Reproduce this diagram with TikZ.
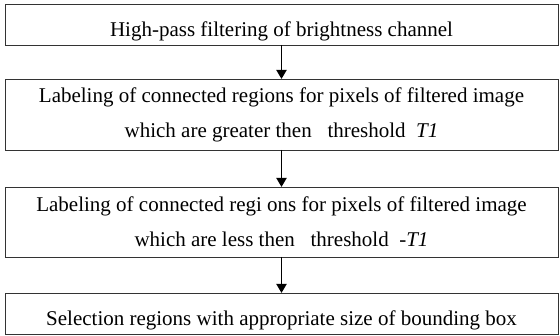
\documentclass[tikz,border=0pt]{standalone}
\usepackage{fontspec}
\setmainfont{Liberation Serif}
\usetikzlibrary{positioning, arrows.meta}

\begin{document}
\begin{tikzpicture}[
    stepbox/.style={draw=black!80, line width=0.9pt, minimum width=553pt, align=center,
      font=\fontsize{21}{35}\selectfont, inner sep=0pt, outer sep=0pt},
    onebox/.style={stepbox, minimum height=41pt, text height=27pt, text depth=3pt},
    twobox/.style={stepbox, minimum height=71pt},
    flow/.style={line width=1.9pt, -{Triangle[width=10pt,length=9pt]}}
  ]
    \useasboundingbox (0,0) rectangle (560pt,-336pt);

    % Draw the steps
    \node[onebox] (filter) at (281.5pt,-24.5pt) {High-pass filtering of brightness channel};
    \node[twobox, below=34pt of filter] (upper) {Labeling of connected regions for pixels of filtered image\\
      which are greater then\ \ \ threshold\ \ \textit{T1}};
    \node[twobox, below=37pt of upper, minimum height=70pt] (lower) {Labeling of connected regi ons for pixels of filtered image\\
      which are less then\ \ \ threshold\ \ \textit{-T1}};
    \node[onebox, below=36pt of lower] (select) {Selection regions with appropriate size of bounding box};

    % Draw arrows between the steps
    \foreach \a/\b in {filter/upper, upper/lower, lower/select} {
      \draw[flow] (\a) -- (\b);
    }
\end{tikzpicture}
\end{document}
